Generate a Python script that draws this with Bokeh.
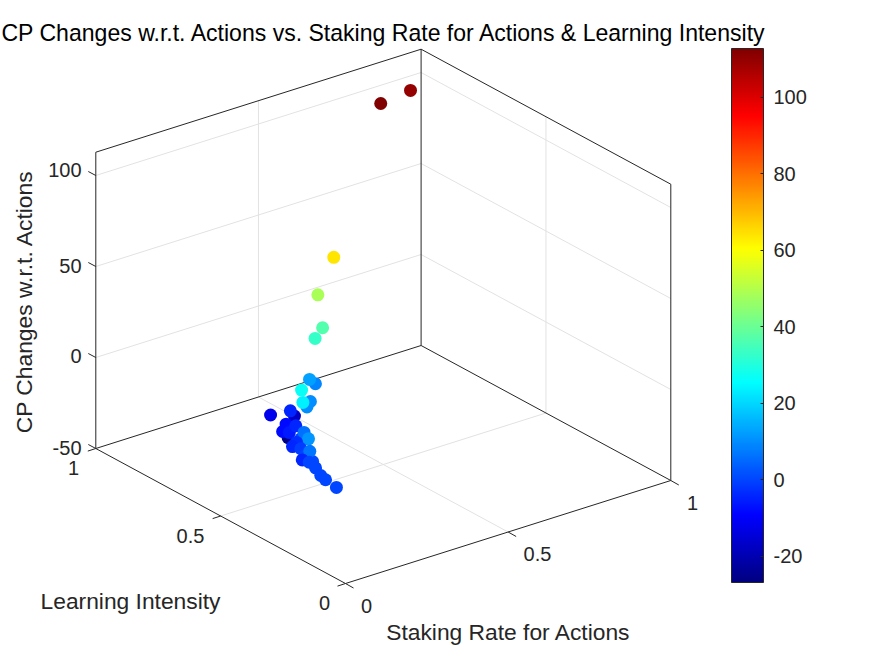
import numpy as np
from bokeh.plotting import figure
from bokeh.models import ColumnDataSource, LinearColorMapper, ColorBar, FixedTicker
from bokeh.core.properties import value
from bokeh.embed import file_html
from bokeh.resources import INLINE

# ---- data (x: staking rate, y: learning intensity, z: CP change), painted in this order
staking = [0.255, 0.286, 0.212, 0.211, 0.182, 0.149, 0.145, 0.169, 0.106, 0.096, 0.049,
           0.104, 0.088, 0.077, 0.055, 0.041, 0.033, 0.059, 0.038, 0.030, 0.013, 0.007, 0.0005,
           0.273, 0.251, 0.167, 0.193, 0.087, 0.106,
           0.278, 0.305, 0.338, 0.403, 0.727, 0.850]
learning = [0.562, 0.577, 0.497, 0.575, 0.475, 0.446, 0.414, 0.419, 0.317, 0.291, 0.212,
            0.332, 0.327, 0.279, 0.232, 0.185, 0.186, 0.250, 0.195, 0.159, 0.116, 0.089, 0.037,
            0.476, 0.471, 0.372, 0.392, 0.284, 0.314,
            0.484, 0.489, 0.551, 0.572, 0.806, 0.847]
cp_change = [-26, -17, -4, -12, -8, -8, -6, -4, 0, 6, 11,
             -3, -4, -1, 0, 1, 7, -4, 0, 0, 0, 0, 0,
             9, 13, 10, 10, 23.5, 27,
             33, 37, 48.6, 64, 112.8, 110]

x_ticks = [0, 0.5, 1]
y_ticks = [0, 0.5, 1]
z_ticks = [-50, 0, 50, 100]
bar_ticks = [-20, 0, 20, 40, 60, 80, 100]
c_low, c_high = -26.8, 112.8
z_low, z_high = -50, 112.8

TITLE = "CP Changes w.r.t. Actions vs. Staking Rate for Actions & Learning Intensity"
XLABEL = "Staking Rate for Actions"
YLABEL = "Learning Intensity"
ZLABEL = "CP Changes w.r.t. Actions"

# ---- projection of the 3-D box on the page (pixels)
O = np.array([345.0, 583.0])
VX = np.array([325.3, -103.0])
VY = np.array([-249.7, -135.0])
VZ = np.array([0.0, -1.82])


def proj(x, y, z):
    x, y, z = np.asarray(x, float), np.asarray(y, float), np.asarray(z, float)
    u = O[0] + x * VX[0] + y * VY[0] + (z - z_low) * VZ[0]
    v = O[1] + x * VX[1] + y * VY[1] + (z - z_low) * VZ[1]
    return u, v


def jet(n=256):
    t = (np.arange(n) + 0.5) / n
    r = np.clip(np.minimum(4 * t - 1.5, -4 * t + 4.5), 0, 1)
    g = np.clip(np.minimum(4 * t - 0.5, -4 * t + 3.5), 0, 1)
    b = np.clip(np.minimum(4 * t + 0.5, -4 * t + 2.5), 0, 1)
    return ["#%02x%02x%02x" % (int(a * 255), int(c * 255), int(d * 255)) for a, c, d in zip(r, g, b)]


p = figure(width=867, height=648, x_range=(0, 867), y_range=(648, 0),
           output_backend="svg", toolbar_location=None, min_border=0)
p.axis.visible = False
p.grid.visible = False
p.outline_line_color = None
p.background_fill_color = "white"

GRID = "#e2e2e2"
EDGE = "#262626"
FONT = value("Liberation Sans")


def seg(a, b, color, width=1.0):
    x0, y0 = proj(*a)
    x1, y1 = proj(*b)
    p.segment(x0=[float(x0)], y0=[float(y0)], x1=[float(x1)], y1=[float(y1)],
              line_color=color, line_width=width)


# grid lines
for t in x_ticks[1:-1]:
    seg((t, 0, z_low), (t, 1, z_low), GRID)
    seg((t, 1, z_low), (t, 1, z_high), GRID)
for t in y_ticks[1:-1]:
    seg((0, t, z_low), (1, t, z_low), GRID)
    seg((1, t, z_low), (1, t, z_high), GRID)
for t in z_ticks[1:]:
    seg((0, 1, t), (1, 1, t), GRID)
    seg((1, 1, t), (1, 0, t), GRID)

# box edges
for a, b in [((0, 0, z_low), (1, 0, z_low)), ((0, 0, z_low), (0, 1, z_low)),
             ((0, 1, z_low), (1, 1, z_low)), ((1, 0, z_low), (1, 1, z_low)),
             ((0, 1, z_low), (0, 1, z_high)), ((1, 1, z_low), (1, 1, z_high)),
             ((1, 0, z_low), (1, 0, z_high)),
             ((0, 1, z_high), (1, 1, z_high)), ((1, 1, z_high), (1, 0, z_high))]:
    seg(a, b, EDGE)

# tick marks
dy = np.array([8.0, 4.5])
dx = np.array([-8.0, 2.6])
dz = np.array([-7.5, -4.0])


def tick(t_xyz, d):
    u, v = proj(*t_xyz)
    p.segment(x0=[float(u)], y0=[float(v)], x1=[float(u + d[0])], y1=[float(v + d[1])],
              line_color=EDGE, line_width=1)


for t in x_ticks:
    tick((t, 0, z_low), dy)
for t in y_ticks:
    tick((0, t, z_low), dx)
for t in z_ticks:
    tick((0, 1, t), dz)

# points
u, v = proj(staking, learning, cp_change)
mapper = LinearColorMapper(palette=jet(), low=c_low, high=c_high)
src = ColumnDataSource(dict(u=u, v=v, c=cp_change))
p.scatter("u", "v", source=src, size=13, line_color=None,
          fill_color={"field": "c", "transform": mapper})


def txt(x, y, s, size, align="center", angle=0.0, color="#262626"):
    p.text(x=[x], y=[y], text=[s], text_font=FONT, text_font_size=value(size), text_color=color,
           text_align=align, text_baseline="middle", angle=angle)


# tick labels
for t, s, (a, b) in zip(x_ticks, ["0", "0.5", "1"], [(366, 605), (537, 553), (692, 502)]):
    txt(a, b, s, "20px")
for t, s, (a, b) in zip(y_ticks, ["0", "0.5", "1"], [(324, 602), (190, 535), (73, 467)]):
    txt(a, b, s, "20px")
for t, s, b in zip(z_ticks, ["-50", "0", "50", "100"], [447, 355, 265, 169]):
    txt(81, b, s, "20px", align="right")

# titles
txt(384, 32, TITLE, "23.05px", color="#000000")
txt(508, 631, XLABEL, "22.8px")
txt(130, 600, YLABEL, "22.8px")
txt(23, 301, ZLABEL, "22.8px", angle=np.pi / 2)

# colour bar
cb = ColorBar(color_mapper=mapper, ticker=FixedTicker(ticks=bar_ticks), location=(731, 66),
              width=32, height=534, padding=0, margin=0, bar_line_color=EDGE,
              major_tick_line_color=EDGE, major_tick_in=3, major_tick_out=0, minor_tick_line_color=None,
              major_label_text_font="Liberation Sans", major_label_text_font_size="20px",
              major_label_text_color="#262626", label_standoff=10,
              major_label_overrides={-20: "-20"},
              background_fill_color=None, border_line_color=None)
p.add_layout(cb, "center")

open("out.html", "w").write(file_html(p, INLINE))
